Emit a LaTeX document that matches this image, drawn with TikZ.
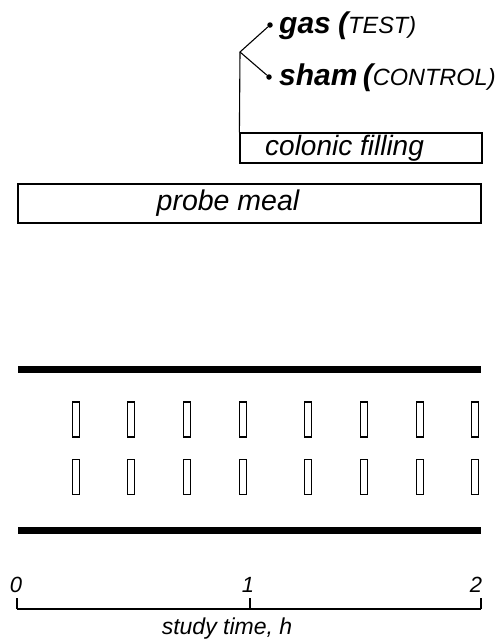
\documentclass[tikz,border=0pt]{standalone}
\usepackage{fontspec}
\setmainfont{Liberation Sans}
\begin{document}
\begin{tikzpicture}[x=1pt,y=-1pt,
  boxnode/.style={draw,line width=1.2pt,inner sep=0pt,rectangle},
  sample/.style={draw,line width=1.2pt,inner sep=0pt,minimum width=7.5pt,minimum height=35pt},
  bar/.style={line width=7pt},
  dotnode/.style={circle,fill,inner sep=0pt,minimum size=5.5pt},
  lbl/.style={inner sep=0pt,font=\itshape},
  thin/.style={line width=1.1pt}]
\useasboundingbox (0,0) rectangle (502,641);
% boxes
\node[boxnode,minimum width=463pt,minimum height=39pt] (probe) at (249.5,203.5) {};
\node[lbl,font=\fontsize{28.5}{30}\selectfont\itshape] (probetxt) at (228,203) {probe meal};
\node[boxnode,minimum width=242pt,minimum height=30pt] (colonic) at (361,148) {};
\node[lbl,anchor=west,font=\fontsize{28}{30}\selectfont\itshape] (colonictxt) at (265,148) {colonic filling};
% branch
\coordinate (branch) at (240,52);
\node[dotnode] (gasdot) at (270,25) {};
\node[dotnode] (shamdot) at (269,77) {};
\draw[thin] (colonic.north west) -- (branch) -- (gasdot);
\draw[thin] (branch) -- (shamdot);
\node[lbl,anchor=west] (gastxt) at (279,26) {\fontsize{30}{32}\selectfont\bfseries\itshape gas\hspace{-1pt} (\mdseries\fontsize{23.5}{25}\selectfont TEST)};
\node[lbl,anchor=west] (shamtxt) at (279,78) {\fontsize{30}{32}\selectfont\bfseries\itshape sham\hspace{-3pt} (\mdseries\fontsize{23.5}{25}\selectfont CONTROL)};
% bars
\draw[bar] (18,369) -- (481,369);
\draw[bar] (18,530) -- (481,530);
% samples
\foreach \x [count=\i] in {76,131,187,243,308,364,420,475}{
  \node[sample] (s1\i) at (\x,419.5) {};
  \node[sample] (s2\i) at (\x,477) {};
}
% axis
\coordinate (t0) at (17,609);
\coordinate (t1) at (250,609);
\coordinate (t2) at (481,609);
\draw[thin] (t0) -- (t2);
\foreach \c in {t0,t1,t2} \draw[thin] (\c) -- ++(0,-11);
\node[lbl,font=\fontsize{22}{24}\selectfont\itshape] (l0) at (16,585) {0};
\node[lbl,font=\fontsize{22}{24}\selectfont\itshape] (l1) at (248,585) {1};
\node[lbl,font=\fontsize{22}{24}\selectfont\itshape] (l2) at (476,585) {2};
\node[lbl,font=\fontsize{23}{25}\selectfont\itshape] (axislbl) at (227,629) {study time, h};
\end{tikzpicture}
\end{document}
